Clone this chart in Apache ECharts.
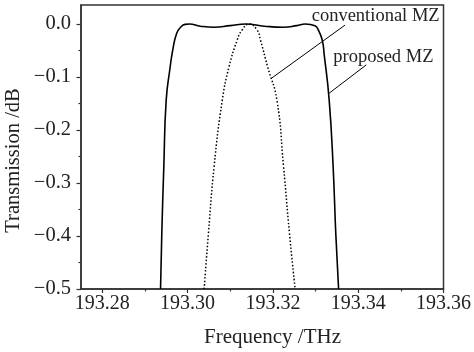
<!DOCTYPE html>
<html>
<head>
<meta charset="utf-8">
<script src="https://cdn.jsdelivr.net/npm/echarts@6/dist/echarts.min.js"></script>
<style>
  body { margin: 0; background: #fff; }
  #chartId { width: 474px; height: 352px; }
</style>
</head>
<body>
<div id="chartId"></div>
<script>
// proposed MZ (solid)
var proposedFreq = [193.29365, 193.29395, 193.29442, 193.29498, 193.29591, 193.29651, 193.29744, 193.29847,
  193.29940, 193.30040, 193.30300, 193.30620, 193.31000, 193.31365, 193.31800, 193.32249, 193.32560,
  193.32760, 193.32986, 193.33063, 193.33156, 193.33203, 193.33319, 193.33412, 193.33474, 193.33540]
var proposedTrans = [-0.5, -0.394, -0.269, -0.143, -0.081, -0.049, -0.0175, -0.005,
  -0.0005, 0.0, -0.004, -0.006, -0.003, 0.0, -0.004, -0.006, -0.003,
  0.0, -0.003, -0.011, -0.030, -0.058, -0.143, -0.269, -0.395, -0.5]

// conventional MZ (dotted)
var conventionalFreq = [193.30388, 193.30488, 193.30621, 193.30814, 193.30970, 193.31163, 193.31279, 193.31435,
  193.31628, 193.31707, 193.31877, 193.32093, 193.32249, 193.32388, 193.32521]
var conventionalTrans = [-0.5, -0.395, -0.269, -0.143, -0.081, -0.030, -0.011, 0.0,
  -0.011, -0.030, -0.081, -0.143, -0.269, -0.395, -0.5]

// leader lines for the labels
var convLeader = [[193.3197, -0.102], [193.3369, -0.002]]
var propLeader = [[193.3331, -0.131], [193.3419, -0.077]]

var xTicks = [193.28, 193.30, 193.32, 193.34, 193.36]
var xMinorTicks = [193.29, 193.31, 193.33, 193.35]
var yTicks = [-0.5, -0.4, -0.3, -0.2, -0.1, 0.0]
var yMinorTicks = [-0.45, -0.35, -0.25, -0.15, -0.05]

var zip = function (xs, ys) {
    return xs.map(function (x, i) { return [x, ys[i]] })
}

var font = 'Liberation Serif'
var axisColor = '#333'

var myChart = echarts.init(document.getElementById('chartId'))
myChart.setOption({
    animation: false,
    grid: {
        left: 81, right: 29, top: 5, bottom: 63,
        show: true,
        borderColor: axisColor,
        borderWidth: 1.5
    },
    xAxis: [{
        type: 'value',
        min: 193.275,
        max: 193.36,
        axisLine: { show: true, onZero: false, lineStyle: { color: axisColor, width: 1.5 } },
        axisTick: { show: true, customValues: xTicks, length: 4, lineStyle: { color: axisColor, width: 1.2 } },
        axisLabel: {
            customValues: xTicks, margin: 5,
            fontFamily: font, fontSize: 20, color: '#222',
            formatter: function (v) { return v.toFixed(2) }
        },
        splitLine: { show: false }
    }, {
        type: 'value',
        position: 'bottom',
        min: 193.275,
        max: 193.36,
        axisLine: { show: false, onZero: false },
        axisTick: { show: true, customValues: xMinorTicks, length: 2.5, lineStyle: { color: axisColor, width: 1.2 } },
        axisLabel: { show: false },
        splitLine: { show: false }
    }],
    yAxis: [{
        type: 'value',
        min: -0.5,
        max: 0.036,
        axisLine: { show: true, onZero: false, lineStyle: { color: axisColor, width: 1.5 } },
        axisTick: { show: true, customValues: yTicks, length: 4.5, lineStyle: { color: axisColor, width: 1.2 } },
        axisLabel: {
            customValues: yTicks, margin: 10,
            fontFamily: font, fontSize: 20.5, color: '#222',
            formatter: function (v) { return (v < 0 ? '\u2212' : '') + Math.abs(v).toFixed(1) }
        },
        splitLine: { show: false }
    }, {
        type: 'value',
        position: 'left',
        min: -0.5,
        max: 0.036,
        axisLine: { show: false, onZero: false },
        axisTick: { show: true, customValues: yMinorTicks, length: 2.5, lineStyle: { color: axisColor, width: 1.2 } },
        axisLabel: { show: false },
        splitLine: { show: false }
    }],
    graphic: [{
        type: 'text', x: 13.5, y: 160.5, rotation: Math.PI / 2,
        style: { text: 'Transmission /dB', fontFamily: font, fontSize: 20.5, fill: '#222', align: 'center', verticalAlign: 'middle' }
    }, {
        type: 'text', x: 272.5, y: 337,
        style: { text: 'Frequency /THz', fontFamily: font, fontSize: 21, fill: '#222', align: 'center', verticalAlign: 'middle' }
    }, {
        type: 'text', x: 311.7, y: 16.5,
        style: { text: 'conventional MZ', fontFamily: font, fontSize: 18.5, fill: '#222', align: 'left', verticalAlign: 'middle' }
    }, {
        type: 'text', x: 333.3, y: 57,
        style: { text: 'proposed MZ', fontFamily: font, fontSize: 18.5, fill: '#222', align: 'left', verticalAlign: 'middle' }
    }],
    series: [{
        name: 'proposed MZ',
        type: 'line',
        data: zip(proposedFreq, proposedTrans),
        smooth: 0.5,
        showSymbol: false,
        lineStyle: { color: '#000', width: 1.6 }
    }, {
        name: 'conventional MZ',
        type: 'line',
        data: zip(conventionalFreq, conventionalTrans),
        smooth: 0.5,
        showSymbol: false,
        lineStyle: { color: '#000', width: 1.5, type: [1.5, 2] }
    }, {
        type: 'line',
        data: convLeader,
        showSymbol: false,
        lineStyle: { color: '#000', width: 1 }
    }, {
        type: 'line',
        data: propLeader,
        showSymbol: false,
        lineStyle: { color: '#000', width: 1 }
    }]
})
</script>
</body>
</html>
